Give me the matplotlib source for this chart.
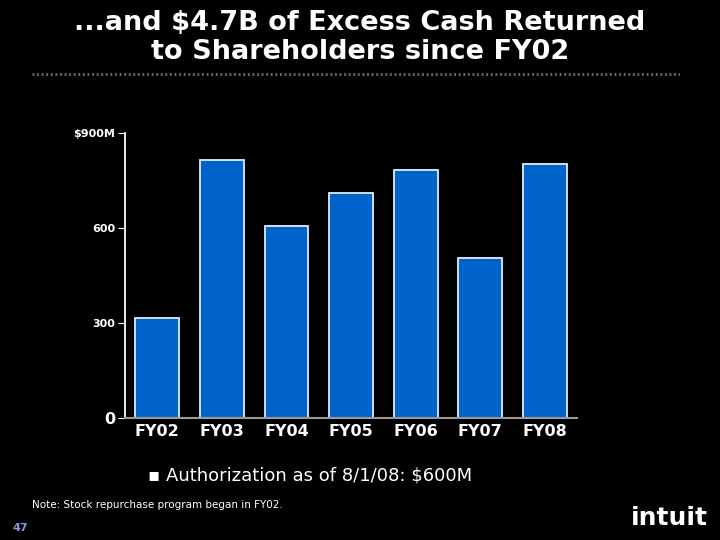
import matplotlib
matplotlib.use("Agg")
from matplotlib import pyplot as plt

years = ["FY02", "FY03", "FY04", "FY05", "FY06", "FY07", "FY08"]
repurchase = [316, 815, 606, 711, 783, 505, 802]
y_ticks = [0, 300, 600, 900]
y_tick_labels = ["0", "300", "600", "$900M"]

fig = plt.figure(figsize=(7.2, 5.4), dpi=100, facecolor="black")

# 标题
fig.text(0.5, 0.958, "...and $4.7B of Excess Cash Returned", ha="center", va="center",
         color="white", fontsize=19.5, fontweight="bold")
fig.text(0.5, 0.903, "to Shareholders since FY02", ha="center", va="center",
         color="white", fontsize=19.5, fontweight="bold")

# 点线
line_ax = fig.add_axes([0.045, 0.858, 0.9, 0.01])
line_ax.set_axis_off()
line_ax.plot([0, 1], [0.5, 0.5], color="#666666", lw=2.2, linestyle=(0, (0.6, 0.9)))
line_ax.set_xlim(0, 1)

ax = fig.add_axes([0.1736, 0.226, 0.628, 0.528])
ax.set_facecolor("black")
ax.bar(range(len(years)), repurchase, width=0.68, color="#0063C9",
       edgecolor="#DDEEFF", linewidth=1.3)
ax.set_xlim(-0.5, 6.5)
ax.set_ylim(0, 900)
ax.set_xticks(range(len(years)))
ax.set_xticklabels(years, color="white", fontsize=11.5, fontweight="bold")
ax.set_yticks(y_ticks)
ax.set_yticklabels(y_tick_labels, color="white", fontsize=8, fontweight="bold")
ax.get_yticklabels()[0].set_fontsize(11.5)
ax.tick_params(axis="x", length=0, pad=4)
ax.tick_params(axis="y", length=5, color="white", pad=2)
for s in ["top", "right"]:
    ax.spines[s].set_visible(False)
ax.spines["left"].set_color("white")
ax.spines["left"].set_linewidth(1.3)
ax.spines["bottom"].set_color("#999999")
ax.spines["bottom"].set_linewidth(1.5)

fig.text(0.205, 0.12, "\u25aa Authorization as of 8/1/08: $600M", color="white",
         fontsize=13, va="center")
fig.text(0.045, 0.065, "Note: Stock repurchase program began in FY02.", color="white",
         fontsize=7.5, va="center")
fig.text(0.018, 0.022, "47", color="#8C9BE0", fontsize=8, fontweight="bold", va="center")
fig.text(0.983, 0.04, "intuit", color="white", fontsize=18, fontweight="bold",
         ha="right", va="center")

plt.savefig("out.png", dpi=100, facecolor="black")
